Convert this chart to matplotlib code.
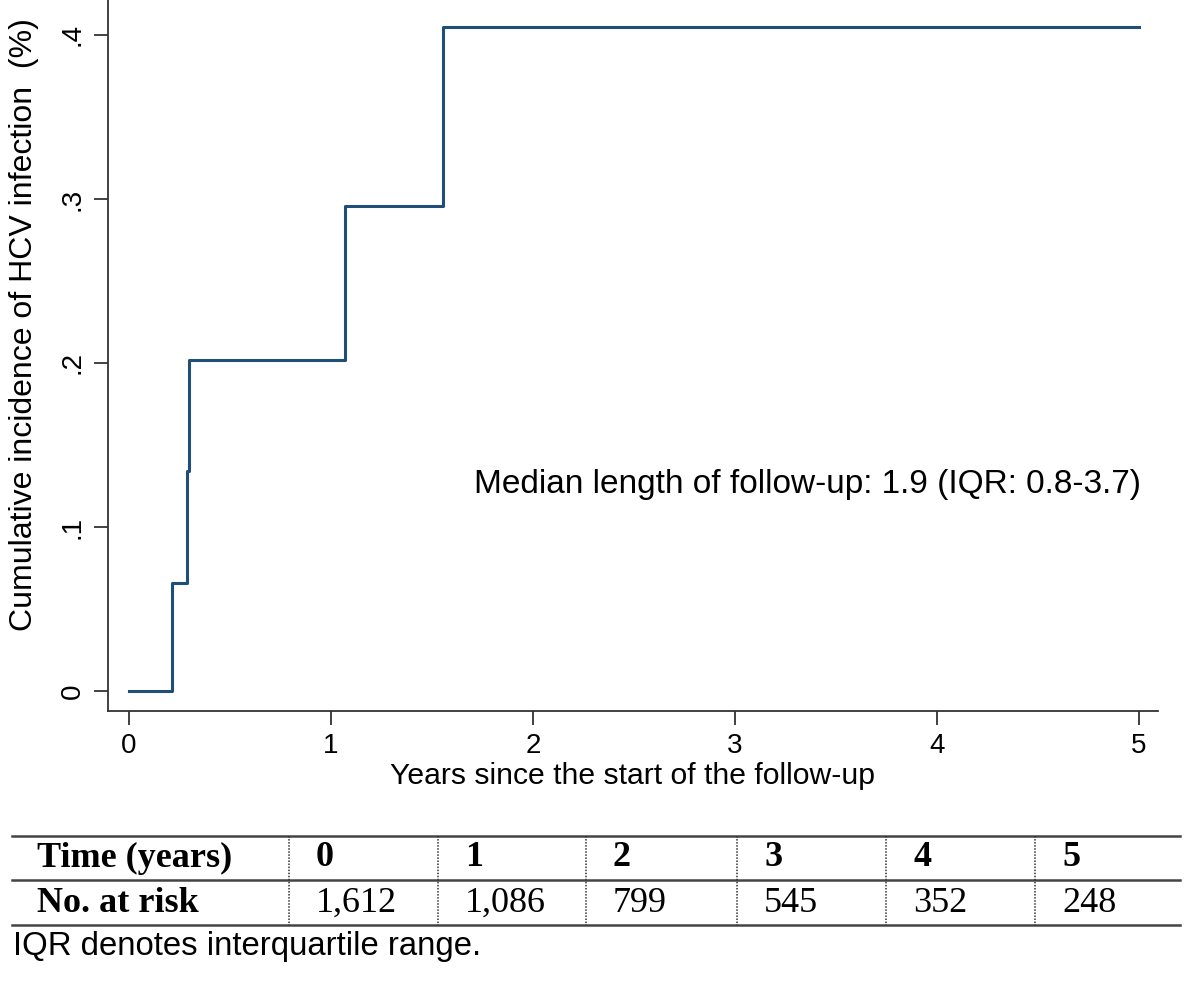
import matplotlib.pyplot as plt
import numpy as np

# step curve (years, cumulative incidence)
step_x = [0.0, 0.213, 0.287, 0.297, 1.069, 1.554, 5.0]
step_y = [0.0, 0.066, 0.134, 0.202, 0.296, 0.405, 0.405]

time_labels = ['0', '1', '2', '3', '4', '5']
at_risk = ['1,612', '1,086', '799', '545', '352', '248']

W, H = 1193, 981
fig = plt.figure(figsize=(W / 100, H / 100), dpi=100)

# main plot, placed in pixel terms
ax = fig.add_axes([108 / W, (H - 711) / H, (1158 - 108) / W, 711 / H])
ax.step(step_x, step_y, where='post', color='#1f4e79', lw=2.2)
ax.set_xlim(-0.104, 5.094)
ax.set_ylim(-0.0122, 0.4213)
ax.set_xticks([0, 1, 2, 3, 4, 5])
ax.set_yticks([0, 0.1, 0.2, 0.3, 0.4])
ax.set_yticklabels(['0', '.1', '.2', '.3', '.4'], rotation=90, va='center')
for s in ['top', 'right']:
    ax.spines[s].set_visible(False)
for s in ['left', 'bottom']:
    ax.spines[s].set_color('#333333')
    ax.spines[s].set_linewidth(1.3)
ax.tick_params(axis='both', length=10, width=1.3, color='#333333',
               labelsize=20, pad=6)
for lab in ax.get_xticklabels() + ax.get_yticklabels():
    lab.set_family('Liberation Sans')
ax.set_xlabel('Years since the start of the follow-up', fontsize=21.7,
              family='Liberation Sans', labelpad=2)
ax.set_ylabel('Cumulative incidence of HCV infection  (%)', fontsize=23,
              family='Liberation Sans')
ax.yaxis.set_label_coords(-0.066, 0.543)
ax.text(3.36, 0.126, 'Median length of follow-up: 1.9 (IQR: 0.8-3.7)',
        fontsize=24, family='Liberation Sans', ha='center', va='center')

# table below, pixel coordinates
tb = fig.add_axes([0, 0, 1, 1])
tb.set_xlim(0, W)
tb.set_ylim(H, 0)
tb.axis('off')
for yy in [836, 880, 925]:
    tb.plot([12, 1180], [yy, yy], color='#444444', lw=1.8)
col_x = [289, 438, 586, 737, 886, 1035]
for cx in col_x:
    tb.plot([cx, cx], [836, 925], color='#333333', lw=1.1, ls=(0, (1, 1)))
tb.text(37, 858, 'Time (years)', fontsize=26, family='Liberation Serif',
        weight='bold', va='center')
tb.text(37, 903, 'No. at risk', fontsize=26, family='Liberation Serif',
        weight='bold', va='center')
for cx, t, n in zip(col_x, time_labels, at_risk):
    tb.text(cx + 27, 858, t, fontsize=26, family='Liberation Serif',
            weight='bold', va='center')
    tb.text(cx + 27, 903, n, fontsize=26, family='Liberation Serif',
            va='center')
tb.text(13, 946, 'IQR denotes interquartile range.', fontsize=23.7,
        family='Liberation Sans', va='center')

fig.savefig('out.png', dpi=100, facecolor='white')
